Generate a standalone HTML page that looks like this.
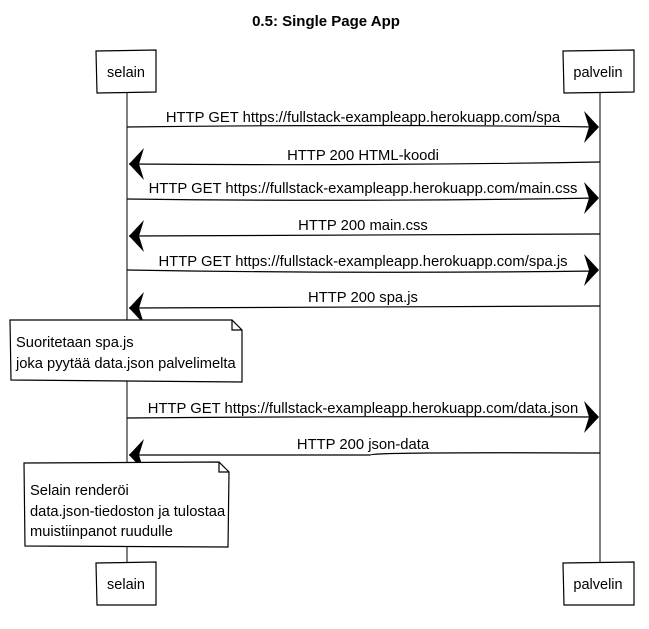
<!DOCTYPE html>
<html><head><meta charset="utf-8"><style>
html,body{margin:0;padding:0;background:#fff;}
svg{display:block;font-family:"Liberation Sans",sans-serif;}
</style></head><body>
<svg width="649" height="629" viewBox="0 0 649 629" xmlns="http://www.w3.org/2000/svg">
<text x="326" y="26" font-size="15" font-weight="bold" text-anchor="middle">0.5: Single Page App</text>
<g stroke="#000" stroke-width="1" fill="none">
<line x1="127" y1="92" x2="127" y2="563"/>
<line x1="600" y1="92" x2="600" y2="563"/>
</g>
<g stroke="#000" stroke-width="1.2" fill="#fff">
<path d="M96 51 L156 50 L156 92 L97 93 Z"/>
<path d="M563 51 L634 50 L634 92 L564 93 Z"/>
<path d="M96 563 L156 562 L156 605 L97 605 Z"/>
<path d="M563 563 L634 562 L634 605 L564 605 Z"/>
</g>
<g font-size="14.5" text-anchor="middle">
<text x="126" y="77">selain</text>
<text x="598" y="77">palvelin</text>
<text x="126" y="589">selain</text>
<text x="598" y="589">palvelin</text>
</g>
<g stroke="#000" stroke-width="1.2" fill="none">
<path d="M127 127 Q360 124 598 127"/>
<path d="M600 162 Q360 166 129 164"/>
<path d="M127 199 Q360 202 598 198"/>
<path d="M600 234 Q360 236 129 236"/>
<path d="M127 270 Q360 274 598 271"/>
<path d="M600 306 Q360 308 129 308"/>
<path d="M127 418 Q360 416 598 417"/>
<path d="M600 453 Q370 452 370 455 Q250 455 129 455"/>
</g>
<g fill="#000">
<path d="M599 127 L584 111 L589 127 L584 143 Z"/>
<path d="M129 164 L144 148 L139 164 L144 180 Z"/>
<path d="M599 198 L584 182 L589 198 L584 214 Z"/>
<path d="M129 236 L144 220 L139 236 L144 252 Z"/>
<path d="M599 270 L584 254 L589 270 L584 286 Z"/>
<path d="M129 308 L144 292 L139 308 L144 324 Z"/>
<path d="M599 417 L584 401 L589 417 L584 433 Z"/>
<path d="M129 455 L144 439 L139 455 L144 471 Z"/>
</g>
<g font-size="14.8" text-anchor="middle">
<text x="363" y="122">HTTP GET https://fullstack-exampleapp.herokuapp.com/spa</text>
<text x="363" y="160">HTTP 200 HTML-koodi</text>
<text x="363" y="193">HTTP GET https://fullstack-exampleapp.herokuapp.com/main.css</text>
<text x="363" y="230">HTTP 200 main.css</text>
<text x="363" y="266">HTTP GET https://fullstack-exampleapp.herokuapp.com/spa.js</text>
<text x="363" y="302">HTTP 200 spa.js</text>
<text x="363" y="413">HTTP GET https://fullstack-exampleapp.herokuapp.com/data.json</text>
<text x="363" y="449">HTTP 200 json-data</text>
</g>
<g stroke="#000" stroke-width="1.2" fill="#fff">
<path d="M10 320 L232 320 L242 330 L242 382 L11 380 Z"/>
<path d="M232 320 L232 330 L242 330" fill="none"/>
<path d="M24 463 L219 462 L229 472 L228 547 L25 546 Z"/>
<path d="M219 462 L219 472 L229 472" fill="none"/>
</g>
<g font-size="14.7">
<text x="16" y="347">Suoritetaan spa.js</text>
<text x="16" y="368">joka pyytää data.json palvelimelta</text>
<text x="30" y="495">Selain renderöi</text>
<text x="30" y="516">data.json-tiedoston ja tulostaa</text>
<text x="30" y="536">muistiinpanot ruudulle</text>
</g>
</svg>
</body></html>
